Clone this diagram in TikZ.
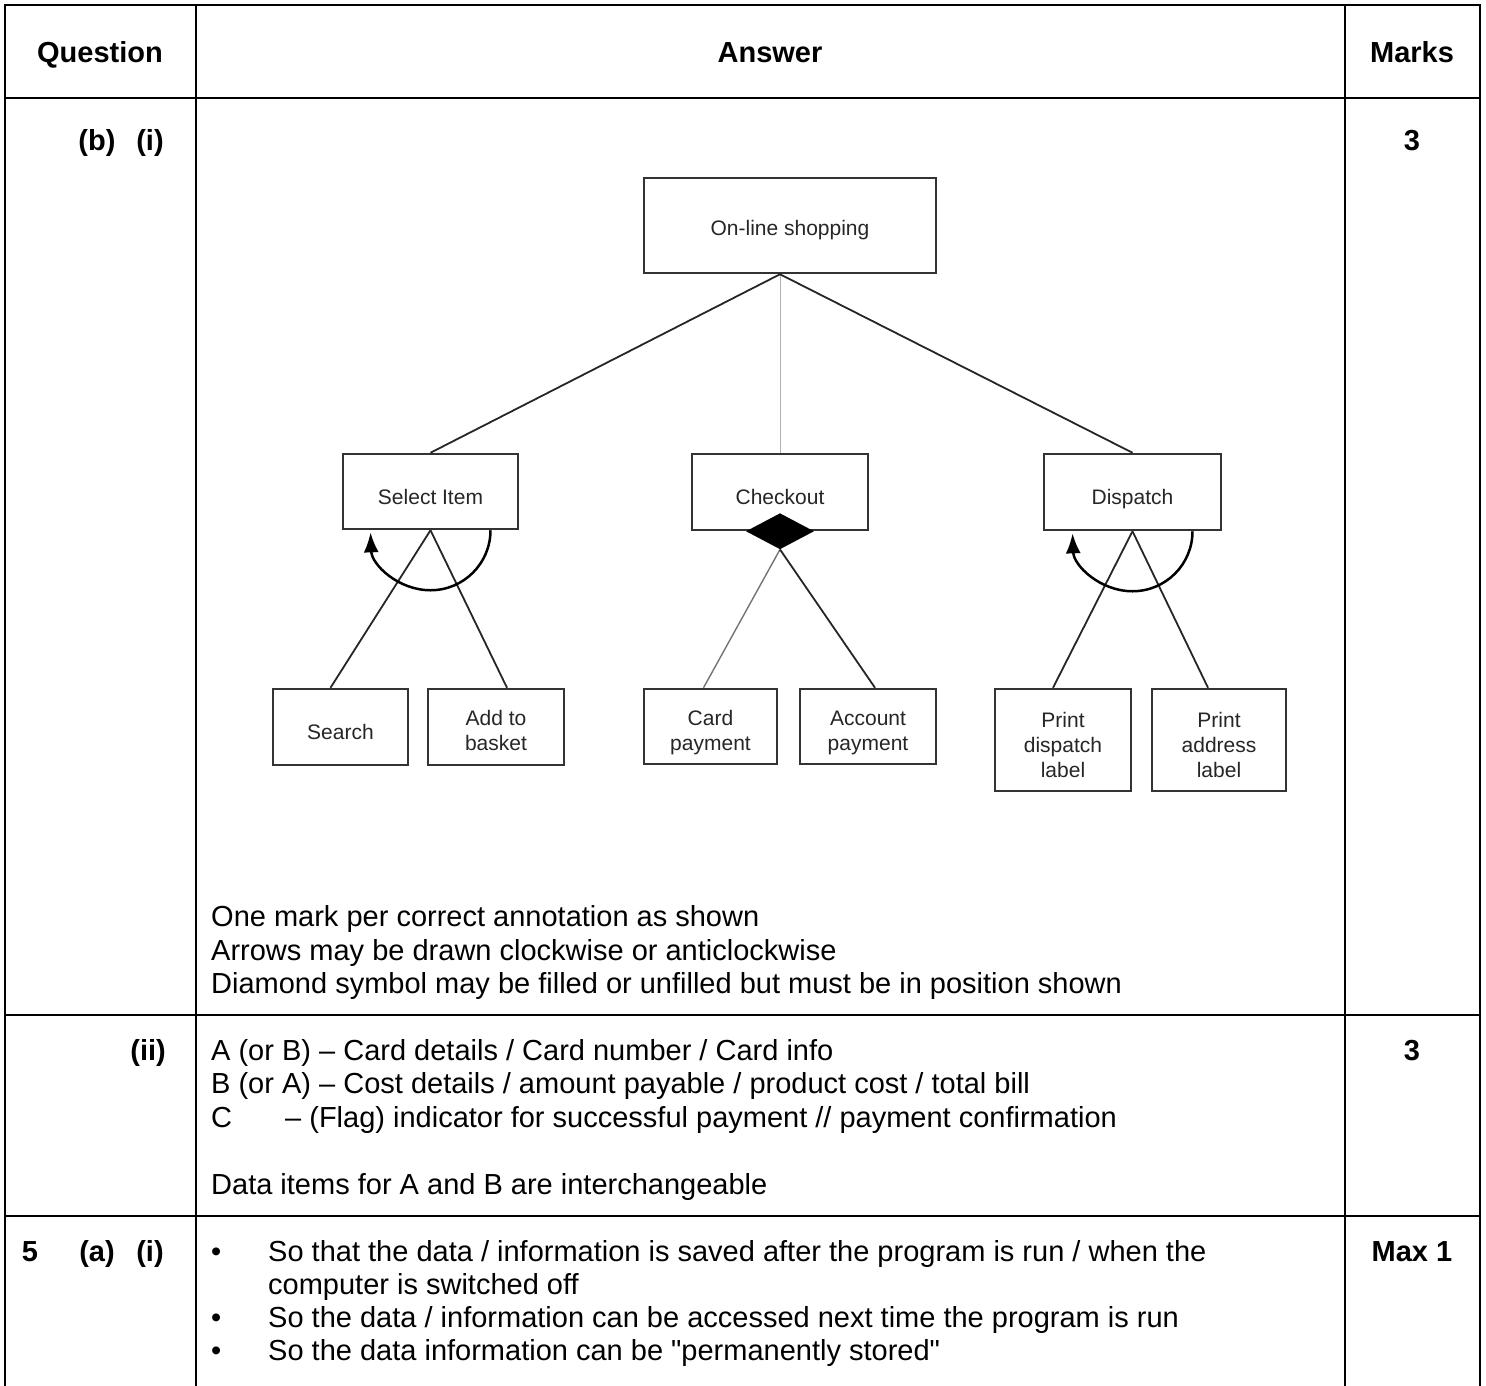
\documentclass[tikz,border=0pt]{standalone}
\usepackage{fontspec}
\setmainfont{Liberation Sans}[Ligatures=TeXOff]
\usetikzlibrary{arrows.meta,
                shapes.geometric,
                positioning}

\tikzset{
    rule/.style={line width=2.5pt, line cap=rect},
    head/.style={font=\fontsize{29}{33}\selectfont\bfseries, inner sep=0pt, text height=21pt, text depth=0pt},
    txt/.style={font=\fontsize{29}{33}\selectfont, anchor=west, inner sep=0pt, text height=21pt, text depth=0pt},
    box/.style={draw=black!80, line width=2.5pt, fill=white, inner sep=0pt, align=center, text=black!85, font=\fontsize{21}{25}\selectfont},
    onebox/.style={box, text height=25pt, text depth=0pt},
    link/.style={draw=black!85, line width=1.8pt},
    faint/.style={draw=black!30, line width=1pt},
    softlink/.style={draw=black!55, line width=1.4pt},
    iterarrow/.style={draw=black, line width=2.5pt, -{Latex[length=20pt,width=15pt]}}
}

\begin{document}
\begin{tikzpicture}[x=1pt, y=-1pt]
            \useasboundingbox (0,0) rectangle (1486,1385);

            % radius of the iteration arcs
            \def\rad{60}

            % Table rules
            \draw[rule] (5,5) -- (1480,5);
            \draw[rule] (5,98) -- (1480,98);
            \draw[rule] (5,1015) -- (1480,1015);
            \draw[rule] (5,1216) -- (1480,1216);
            \draw[rule] (5,5) -- (5,1390);
            \draw[rule] (196,5) -- (196,1390);
            \draw[rule] (1345,5) -- (1345,1390);
            \draw[rule] (1480,5) -- (1480,1390);

            % Header row
            \node[head] (qhead) at (100,52) {Question};
            \node[head] (ahead) at (770,52) {Answer};
            \node[head] (mhead) at (1412,52) {Marks};

            % Question numbers and marks
            \node[head] (qb) at (97,140) {(b)};
            \node[head] (qbi) at (150,140) {(i)};
            \node[head] (mbi) at (1412,140) {3};
            \node[head, anchor=east] (qbii) at (166,1050) {(ii)};
            \node[head] (mbii) at (1412,1050) {3};
            \node[head] (q5) at (30,1251) {5};
            \node[head] (q5a) at (97,1251) {(a)};
            \node[head] (q5ai) at (150,1251) {(i)};
            \node[head] (m5ai) at (1412,1251) {Max 1};

            % Structure chart
            \node[onebox, text height=20pt, minimum width=292, minimum height=95] (shop) at (790,225.5) {On-line shopping};
            \node[onebox, minimum width=175, minimum height=75] (select) at (430.5,491.5) {Select Item};
            \node[onebox, minimum width=176, minimum height=76] (checkout) at (780,492) {Checkout};
            \node[onebox, minimum width=177, minimum height=76] (dispatch) at (1132.5,492) {Dispatch};
            \node[onebox, minimum width=135, minimum height=76] (search) at (340.5,727) {Search};
            \node[box, text height=48pt, minimum width=136, minimum height=76] (basket) at (496,727) {Add to\\basket};
            \node[box, text height=52pt, minimum width=133, minimum height=75] (cardpay) at (710.5,726.5) {Card\\payment};
            \node[box, text height=52pt, minimum width=136, minimum height=75] (acctpay) at (868,726.5) {Account\\payment};
            \node[box, text height=75pt, minimum width=136, minimum height=102] (printdisp) at (1063,740) {Print\\dispatch\\label};
            \node[box, text height=75pt, minimum width=134, minimum height=102] (printaddr) at (1219,740) {Print\\address\\label};

            % Selection diamond under Checkout
            \node[diamond, fill=black, inner sep=0pt, minimum width=68, minimum height=36] (gem) at (checkout.south) {};

            % Top level connectors
            \draw[link] (shop.south -| checkout.north) -- (select.north);
            \draw[faint] (shop.south -| checkout.north) -- (checkout.north);
            \draw[link] (shop.south -| checkout.north) -- (dispatch.north);

            % Lower level connectors
            \draw[link] (select.south) -- ([xshift=-10]search.north);
            \draw[link] (select.south) -- ([xshift=11]basket.north);
            \draw[softlink] (gem.south) -- ([xshift=-7]cardpay.north);
            \draw[link] (gem.south) -- ([xshift=7]acctpay.north);
            \draw[link] (dispatch.south) -- ([xshift=-10]printdisp.north);
            \draw[link] (dispatch.south) -- ([xshift=-11]printaddr.north);

            % Iteration arcs
            \draw[iterarrow] ([xshift=\rad]select.south) arc[start angle=0, end angle=178, radius=\rad];
            \draw[iterarrow] ([xshift=\rad]dispatch.south) arc[start angle=0, end angle=178, radius=\rad];

            % Notes under the chart
            \node[txt] (note1) at (211,916) {One mark per correct annotation as shown};
            \node[txt] (note2) at (211,950) {Arrows may be drawn clockwise or anticlockwise};
            \node[txt] (note3) at (211,983) {Diamond symbol may be filled or unfilled but must be in position shown};

            % Part (ii)
            \node[txt] (ansa) at (211,1050) {A (or B) – Card details / Card number / Card info};
            \node[txt] (ansb) at (211,1083) {B (or A) – Cost details / amount payable / product cost / total bill};
            \node[txt] (ansc) at (211,1117) {C};
            \node[txt] (ansctext) at (285,1117) {– (Flag) indicator for successful payment // payment confirmation};
            \node[txt] (ansd) at (211,1184) {Data items for A and B are interchangeable};

            % Question 5 bullets
            \node[txt] (dot1) at (211,1251) {\textbullet};
            \node[txt] (pt1) at (268,1251) {So that the data / information is saved after the program is run / when the};
            \node[txt] (pt1b) at (268,1284) {computer is switched off};
            \node[txt] (dot2) at (211,1317) {\textbullet};
            \node[txt] (pt2) at (268,1317) {So the data / information can be accessed next time the program is run};
            \node[txt] (dot3) at (211,1350) {\textbullet};
            \node[txt] (pt3) at (268,1350) {So the data information can be "permanently stored"};
\end{tikzpicture}
\end{document}
